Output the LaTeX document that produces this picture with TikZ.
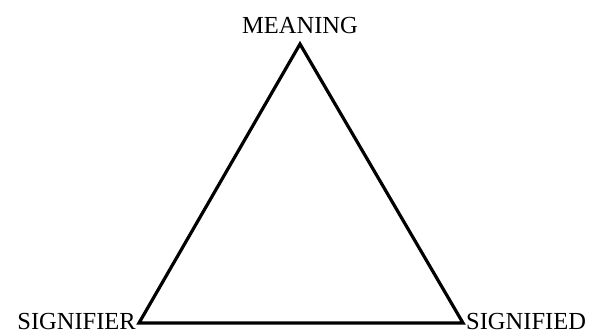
\documentclass[tikz,border=0pt]{standalone}
\usepackage{fontspec}
\setmainfont{Liberation Serif}
\begin{document}
\begin{tikzpicture}[x=1pt,y=-1pt,
  lbl/.style={inner sep=0pt,font=\fontsize{24.5}{28}\selectfont}]
\useasboundingbox (0,0) rectangle (591,334);
\coordinate (M) at (300,44);
\coordinate (L) at (139,323);
\coordinate (R) at (463,323);
\draw[line width=3.2pt,line join=miter] (M) -- (L) -- (R) -- cycle;
\node[lbl,anchor=base] (meaning) at (300,34) {MEANING};
\node[lbl,anchor=base east] (signifier) at (136,329) {SIGNIFIER};
\node[lbl,anchor=base west] (signified) at (466,329) {SIGNIFIED};
\end{tikzpicture}
\end{document}
